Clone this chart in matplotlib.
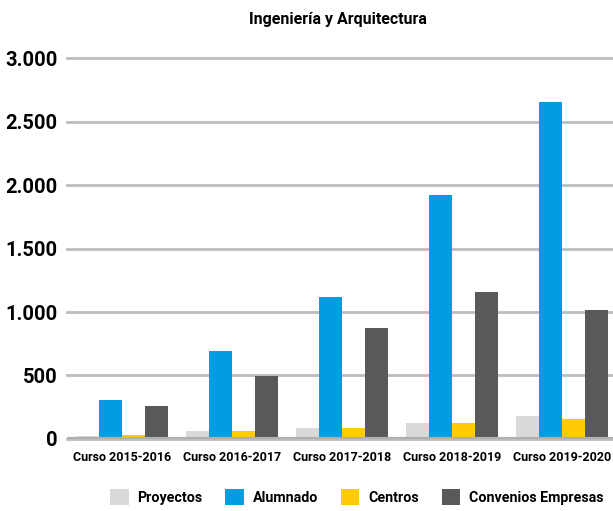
import numpy as np
import matplotlib
matplotlib.use('Agg')
import matplotlib.pyplot as plt
import matplotlib.ticker as mticker

cursos = ['Curso 2015-2016', 'Curso 2016-2017', 'Curso 2017-2018', 'Curso 2018-2019', 'Curso 2019-2020']
proyectos = [25, 63, 89, 128, 184]
alumnado = [307, 690, 1118, 1921, 2657]
centros = [31, 63, 89, 128, 160]
convenios = [260, 496, 874, 1157, 1015]

series = [('Proyectos', proyectos, '#D9D9DA'),
          ('Alumnado', alumnado, '#009EE0'),
          ('Centros', centros, '#FFCB05'),
          ('Convenios Empresas', convenios, '#58595B')]

plt.rcParams['font.family'] = ['Roboto', 'DejaVu Sans']

fig = plt.figure(figsize=(6.13, 5.11), dpi=100)
ax = fig.add_axes([0.110, 0.141, 0.890, 0.745])

x = np.arange(len(cursos))
w = 0.209
for i, (name, vals, col) in enumerate(series):
    ax.bar(x + (i - 1.5) * w, vals, width=w, color=col, label=name, zorder=3)

ax.set_xlim(-0.5, 4.46)
ax.set_ylim(0, 3000)
ax.set_yticks(np.arange(0, 3001, 500))
ax.yaxis.set_major_formatter(mticker.FuncFormatter(lambda v, p: f'{int(v):,}'.replace(',', '.')))
ax.grid(axis='y', color='#BDBDBD', linewidth=2, zorder=0, clip_on=False)
ax.axhline(0, color='#B0B0B0', linewidth=3, zorder=4)
for s in ax.spines.values():
    s.set_visible(False)
ax.tick_params(axis='y', length=0, pad=7, labelsize=14.5)
ax.tick_params(axis='x', length=0, pad=9, labelsize=9.0)
ax.set_xticks(x)
ax.set_xticklabels(cursos, fontweight='bold')
for lb in ax.get_yticklabels():
    lb.set_fontweight('bold')

fig.text(0.551, 0.962, 'Ingeniería y Arquitectura', ha='center', va='center',
         fontsize=11.5, fontweight='bold')

fig.legend(loc='center', bbox_to_anchor=(0.582, 0.027), ncol=4, frameon=False,
           handlelength=1.3, handleheight=1.4, columnspacing=1.6,
           handletextpad=0.6, borderaxespad=0, prop={'weight': 'bold', 'size': 10.3})

fig.savefig('out.png', dpi=100)
